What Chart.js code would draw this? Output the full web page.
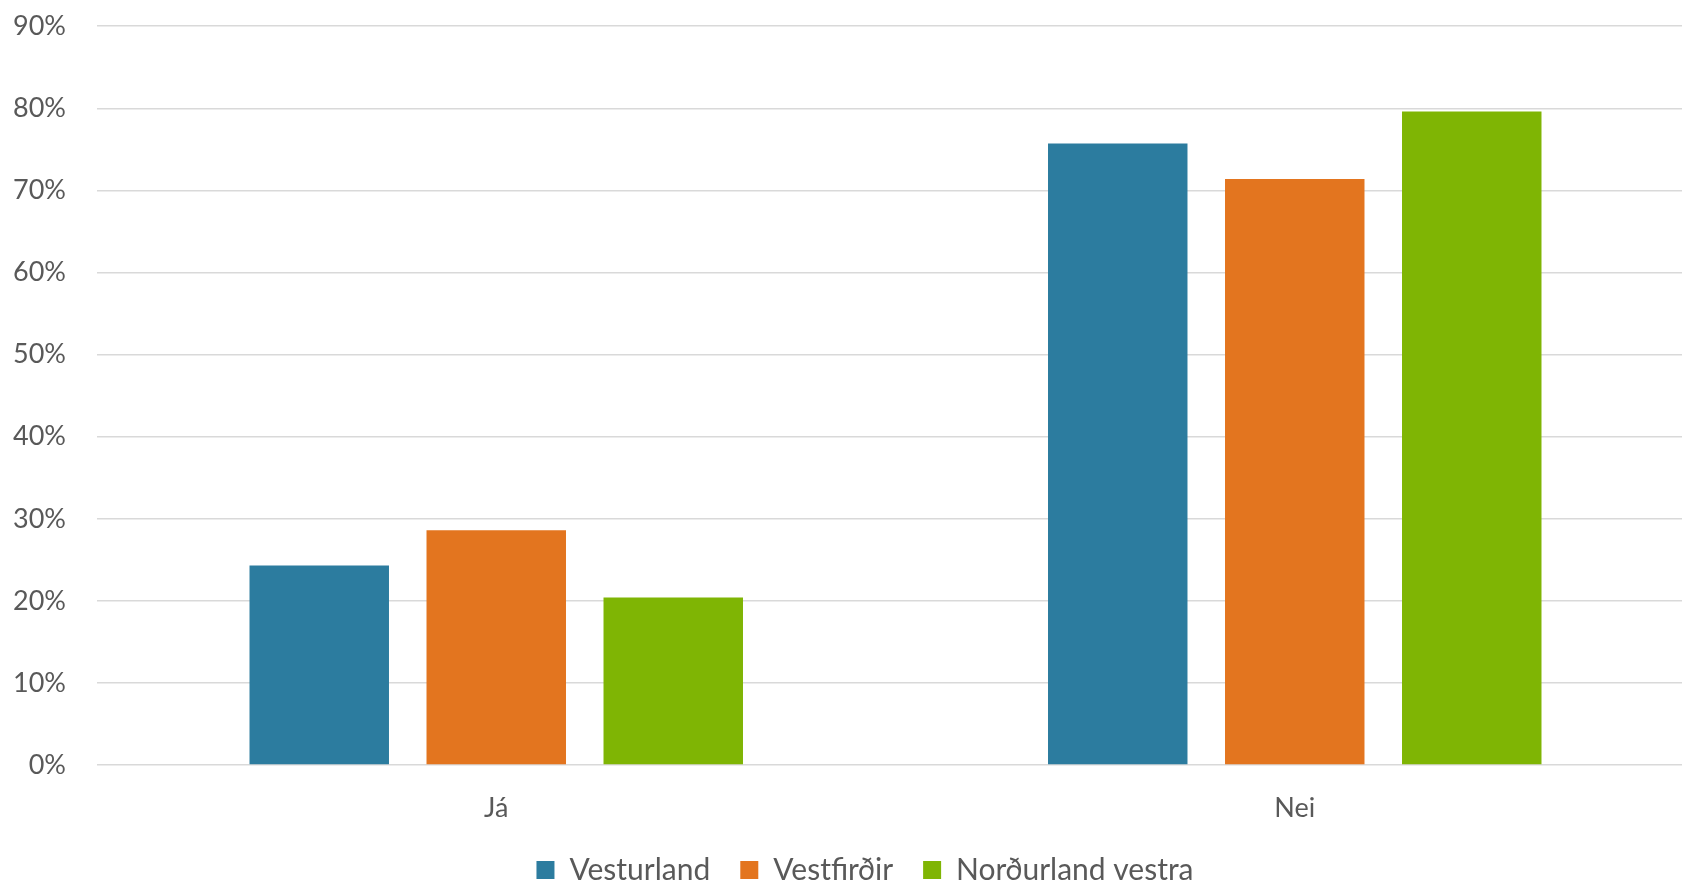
<!DOCTYPE html>
<html>
<head>
<meta charset="utf-8">
<script src="https://cdn.jsdelivr.net/npm/chart.js"></script>
<style>
  html, body { margin: 0; padding: 0; background: #fff; overflow: hidden; width: 1682px; height: 881px; }
  .chart-wrap { width: 1729px; height: 918px; position: relative; margin-top: -21px; }
</style>
</head>
<body>
<div class="chart-wrap"><canvas id="chart"></canvas></div>
<script>
// data (percent)
const categories = ["Já", "Nei"];
const vesturland = [24.3, 75.7];
const vestfirdir = [28.6, 71.4];
const nordurlandVestra = [20.4, 79.6];
const seriesNames = ["Vesturland", "Vestfirðir", "Norðurland vestra"];
const yTicks = [0, 10, 20, 30, 40, 50, 60, 70, 80, 90];

const textColor = "#595959";
const axisFont = { family: "Lato, 'Open Sans', sans-serif", size: 27 };
const legendFont = { family: "Lato, 'Open Sans', sans-serif", size: 30 };

// the legend in the original sits a bit right of the canvas centre
const legendShift = {
    id: "legendShift",
    afterLayout(chart) {
        chart.legend.left += 18;
        chart.legend.right += 18;
    }
};

const ctx = document.getElementById("chart").getContext("2d");
new Chart(ctx, {
    type: "bar",
    data: {
        labels: categories,
        datasets: [
            { label: seriesNames[0], data: vesturland, backgroundColor: "#2C7C9F" },
            { label: seriesNames[1], data: vestfirdir, backgroundColor: "#E3751F" },
            { label: seriesNames[2], data: nordurlandVestra, backgroundColor: "#7FB504" }
        ]
    },
    plugins: [legendShift],
    options: {
        responsive: true,
        maintainAspectRatio: false,
        animation: false,
        categoryPercentage: 0.665,
        barPercentage: 0.788,
        layout: { padding: { left: 0, right: 35, top: 0, bottom: 2 } },
        plugins: {
            tooltip: { enabled: false },
            legend: {
                position: "bottom",
                labels: {
                    color: textColor,
                    font: legendFont,
                    boxWidth: 18,
                    boxHeight: 18,
                    padding: 30
                }
            }
        },
        scales: {
            x: {
                grid: { display: false, drawTicks: false },
                border: { display: false },
                ticks: { color: textColor, font: axisFont, padding: 27 },
                afterFit: (axis) => { axis.height -= 26.5; }
            },
            y: {
                min: yTicks[0],
                max: yTicks[yTicks.length - 1],
                afterFit: (axis) => { axis.width = 97; },
                afterBuildTicks: (axis) => { axis.ticks = yTicks.map(v => ({ value: v })); },
                grid: { color: "#d9d9d9", lineWidth: 1.6, drawTicks: false },
                border: { display: false },
                ticks: {
                    color: textColor,
                    font: axisFont,
                    padding: 31,
                    callback: (v) => v + "%"
                }
            }
        }
    }
});
</script>
</body>
</html>
